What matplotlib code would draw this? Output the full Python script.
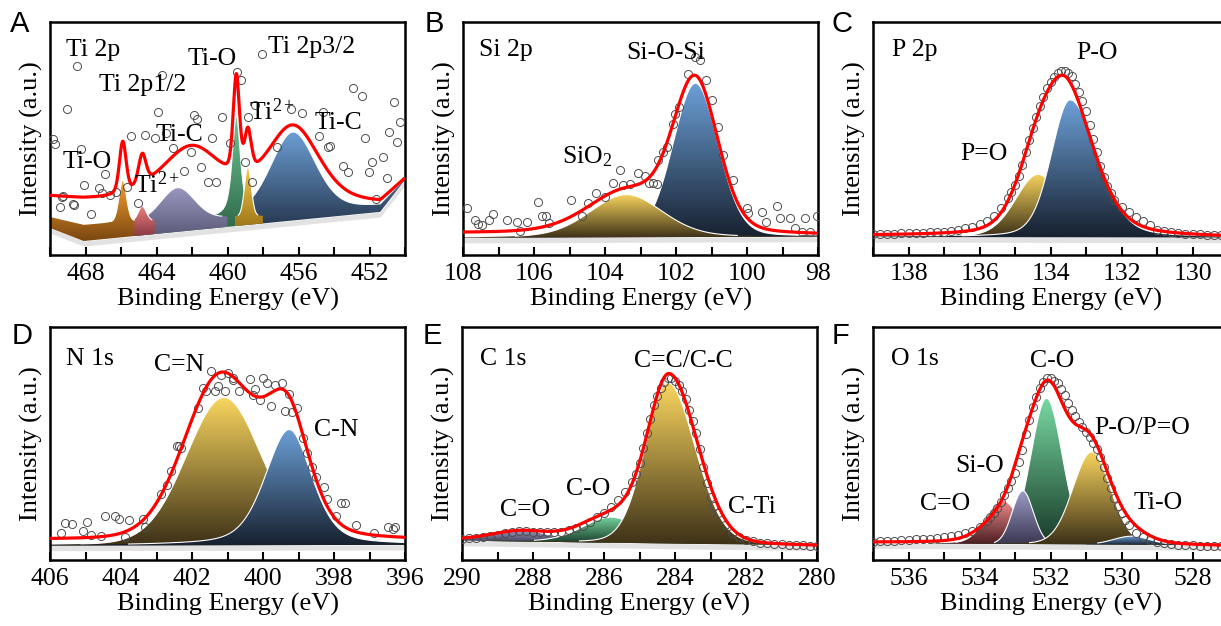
import numpy as np
import matplotlib.pyplot as plt
from matplotlib.colors import LinearSegmentedColormap
from matplotlib.patches import Polygon
from matplotlib.ticker import MultipleLocator

plt.rcParams['font.family'] = ['Liberation Serif', 'DejaVu Serif']
plt.rcParams['mathtext.fontset'] = 'custom'
plt.rcParams['mathtext.rm'] = 'Liberation Serif'
plt.rcParams['mathtext.it'] = 'Liberation Serif:italic'
plt.rcParams['mathtext.bf'] = 'Liberation Serif:bold'

# intensities are given in % of the axis height

# ---- A: Ti 2p ----
a_base_be = [470, 468.1, 451.4, 450]
a_base_y = [11.6, 6.0, 18.5, 32.2]
a_ped_be = [470, 468.1, 466, 463, 459.5, 456, 451.4, 450]
a_ped_y = [4.7, 6.9, 6.5, 5.0, 4.0, 2.0, 2.5, 0.0]
a_peak_be = [459.5, 462.8, 464.8, 465.9, 456.3, 458.85]
a_peak_h = [43.6, 14.0, 6.5, 18.0, 35.8, 21.3]
a_peak_whi = [0.55, 2.2, 0.55, 0.5, 3.0, 0.45]
a_peak_wlo = [0.55, 2.2, 0.55, 0.5, 3.0, 0.45]
a_peak_eta = [0.7, 0.1, 0.2, 0.2, 0.3, 0.1]
a_fit_base_y = [24.9, 23.6, 22.3, 32.2]
a_fit_be = [465.9, 464.8, 462.0, 459.5, 458.85, 456.3]
a_fit_h = [22, 13, 23, 42, 18, 32]
a_fit_whi = [0.45, 0.5, 4.0, 0.42, 0.45, 3.4]
a_fit_wlo = [0.45, 0.5, 4.0, 0.42, 0.45, 3.4]
a_fit_eta = [0.3, 0.3, 0.4, 0.3, 0.3, 0.3]
a_pts_be = [468.46, 469.04, 469.83, 469.70, 468.27, 466.88, 468.08, 469.27, 469.45, 468.65,
            467.67, 467.24, 467.05, 466.64, 466.26, 465.65, 465.45, 464.67, 464.07, 463.67,
            463.92, 463.45, 463.07, 462.45, 462.04, 461.89, 461.70, 461.48, 461.10, 460.87,
            460.66, 460.29, 465.04, 459.86, 459.45, 459.24, 459.01, 458.86, 458.45, 458.07,
            458.60, 457.23, 456.44, 455.82, 454.60, 454.83, 454.35, 454.23, 453.48, 453.23,
            452.91, 452.44, 452.25, 452.03, 451.84, 451.63, 451.26, 451.03, 450.62, 450.28,
            450.88, 450.43, 469.34, 468.69]
a_pts_y = [81.2, 62.7, 49.8, 47.6, 45.5, 34.6, 30.0, 25.3, 20.7, 21.5,
           17.6, 28.6, 26.5, 25.8, 27.2, 29.3, 51.1, 51.5, 50.1, 77.3,
           61.2, 52.5, 45.8, 36.2, 44.3, 60.1, 58.4, 37.9, 31.2, 50.1,
           31.2, 59.4, 22.2, 47.9, 78.4, 75.1, 40.0, 59.1, 64.4, 86.1,
           31.2, 46.5, 62.5, 60.8, 61.5, 51.2, 46.5, 46.9, 38.3, 35.8,
           71.8, 68.2, 50.1, 35.8, 39.8, 24.0, 42.2, 33.2, 65.8, 57.2,
           52.7, 48.4, 25.0, 21.8]

# ---- B: Si 2p ----
b_base_be = [108, 98]
b_base_y = [7.4, 7.9]
b_peak_be = [101.45, 103.4]
b_peak_h = [66.0, 18.3]
b_peak_whi = [1.5, 2.4]
b_peak_wlo = [1.5, 2.4]
b_peak_eta = [0.15, 0.2]
b_fit_base_y = [9.3, 8.5]
b_fit_be = [103.4, 101.45]
b_fit_h = [18, 64]
b_fit_whi = [2.6, 1.5]
b_fit_wlo = [2.6, 1.5]
b_fit_eta = [0.3, 0.2]
b_pts_be = [107.88, 107.66, 107.57, 107.47, 107.26, 107.16, 106.77, 106.47, 106.19, 105.88,
            105.78, 105.66, 105.57, 104.97, 104.66, 104.47, 104.26, 104.0, 103.77, 103.58,
            103.48, 103.06, 102.87, 102.77, 102.64, 102.54, 102.50, 102.36, 102.26, 102.08,
            102.03, 101.91, 101.65, 101.46, 101.32, 101.15, 100.99, 100.81, 100.67, 100.39,
            99.99, 99.96, 99.59, 99.46, 99.16, 99.07, 98.79, 98.65, 98.46, 98.37,
            98.23, 98.04, 103.30, 106.39]
b_pts_y = [20.0, 15.0, 13.3, 12.9, 15.0, 17.6, 15.0, 14.3, 14.0, 22.6,
           16.7, 16.7, 13.9, 23.6, 16.9, 22.2, 26.7, 25.0, 30.8, 36.5,
           30.0, 35.1, 33.9, 30.8, 30.8, 30.6, 40.8, 44.3, 46.5, 56.2,
           60.4, 63.4, 77.7, 85.1, 83.7, 75.1, 66.5, 55.1, 42.9, 32.2,
           20.0, 17.9, 18.6, 14.3, 21.0, 15.7, 15.7, 11.4, 10.0, 15.7,
           9.7, 16.7, 30.5, 10.3]

# ---- C: P 2p ----
c_base_be = [139, 129]
c_base_y = [7.7, 7.5]
c_peak_be = [134.35, 133.45]
c_peak_h = [27.0, 59.0]
c_peak_whi = [1.5, 1.25]
c_peak_wlo = [1.5, 1.8]
c_peak_eta = [0.2, 0.25]
c_fit_base_y = [8.2, 7.4]
c_fit_be = [134.35, 133.5]
c_fit_h = [26, 58]
c_fit_whi = [1.4, 1.6]
c_fit_wlo = [1.4, 1.8]
c_fit_eta = [0.2, 0.4]
c_pts_be = [139.0, 138.8, 138.6, 138.4, 138.2, 138.0, 137.8, 137.6, 137.4, 137.2,
            137.0, 136.8, 136.6, 136.4, 136.2, 136.0, 135.8, 135.6, 135.4, 135.2,
            135.1, 135.0, 134.9, 134.8, 134.7, 134.6, 134.5, 134.4, 134.3, 134.2,
            134.1, 134.0, 133.9, 133.8, 133.7, 133.6, 133.5, 133.4, 133.3, 133.2,
            133.1, 133.0, 132.9, 132.8, 132.7, 132.6, 132.5, 132.4, 132.3, 132.2,
            132.0, 131.8, 131.6, 131.4, 131.2, 131.0, 130.8, 130.6, 130.4, 130.2,
            130.0, 129.8, 129.6, 129.4, 129.2]
c_pts_y = [8.9, 9.0, 9.1, 9.2, 9.3, 9.3, 9.4, 9.5, 9.7, 9.8,
           10.0, 10.3, 10.7, 11.4, 12.2, 13.3, 14.7, 16.7, 20.0, 24.3,
           27.0, 30.0, 34.0, 38.6, 44.0, 49.4, 54.5, 59.4, 64.0, 68.0,
           71.5, 74.4, 76.5, 78.3, 79.0, 79.1, 78.2, 76.8, 73.5, 70.0,
           66.0, 62.0, 56.0, 50.0, 44.0, 38.0, 33.5, 29.5, 26.5, 23.5,
           20.5, 18.3, 16.5, 14.8, 12.8, 10.8, 10.3, 9.8, 9.5, 9.2,
           9.0, 8.8, 8.7, 8.6, 8.6]

# ---- D: N 1s ----
d_base_be = [406, 396]
d_base_y = [6.2, 6.5]
d_peak_be = [401.1, 399.26]
d_peak_h = [63.4, 49.6]
d_peak_whi = [2.5, 1.6]
d_peak_wlo = [2.5, 1.5]
d_peak_eta = [0.1, 0.4]
d_fit_base_y = [8.6, 8.4]
d_fit_be = [401.2, 399.3]
d_fit_h = [69, 50]
d_fit_whi = [2.4, 1.5]
d_fit_wlo = [2.4, 1.5]
d_fit_eta = [0.1, 0.4]
d_pts_be = [405.68, 405.57, 405.38, 405.07, 404.97, 404.85, 404.57, 404.46, 404.18, 404.06,
            403.78, 403.88, 403.38, 403.33, 402.86, 402.70, 402.58, 402.43, 402.37, 402.30,
            401.83, 401.69, 401.60, 401.36, 401.27, 401.08, 401.47, 401.17, 400.99, 400.85,
            400.84, 400.67, 400.37, 400.23, 400.27, 400.08, 399.99, 399.90, 399.66, 399.47,
            399.78, 399.38, 399.19, 399.26, 399.05, 398.86, 398.77, 398.63, 398.51, 398.27,
            398.19, 397.80, 397.69, 397.94, 397.38, 396.87, 396.49, 396.33, 396.28]
d_pts_y = [11.7, 16.0, 15.5, 12.6, 16.4, 10.7, 10.3, 18.9, 18.9, 17.5,
           17.2, 10.0, 17.5, 14.3, 28.3, 32.2, 38.2, 49.1, 48.9, 47.9,
           65.1, 73.7, 72.7, 72.7, 74.7, 72.7, 81.1, 79.4, 80.1, 77.3,
           78.0, 72.5, 77.6, 73.3, 70.8, 68.7, 78.0, 75.8, 75.1, 76.1,
           66.2, 64.1, 63.6, 71.1, 65.4, 52.2, 45.8, 40.0, 35.5, 31.2,
           26.1, 24.6, 24.6, 18.9, 15.0, 11.7, 14.3, 13.2, 14.3]

# ---- E: C 1s ----
e_base_be = [290, 280]
e_base_y = [8.3, 6.2]
e_peak_be = [288.35, 285.8, 284.2]
e_peak_h = [5.0, 11.0, 69.0]
e_peak_whi = [1.9, 1.9, 1.5]
e_peak_wlo = [1.9, 1.9, 1.8]
e_peak_eta = [0.2, 0.2, 0.1]
e_fit_base_y = [8.6, 6.0]
e_fit_be = [288.35, 285.8, 284.15]
e_fit_h = [4, 11, 71]
e_fit_whi = [1.9, 2.0, 1.45]
e_fit_wlo = [1.9, 2.0, 1.85]
e_fit_eta = [0.2, 0.2, 0.1]
e_pts_be = [290.0, 289.8, 289.6, 289.4, 289.2, 289.0, 288.8, 288.6, 288.4, 288.2,
            288.0, 287.8, 287.6, 287.4, 287.2, 287.0, 286.8, 286.6, 286.4, 286.2,
            286.0, 285.8, 285.6, 285.4, 285.2, 285.1, 285.0, 284.9, 284.8, 284.7,
            284.6, 284.5, 284.4, 284.3, 284.2, 284.1, 284.0, 283.9, 283.8, 283.7,
            283.6, 283.5, 283.4, 283.3, 283.2, 283.1, 283.0, 282.9, 282.8, 282.6,
            282.4, 282.2, 282.0, 281.8, 281.6, 281.4, 281.2, 281.0, 280.8, 280.6,
            280.4, 280.2, 280.0]
e_pts_y = [9.2, 9.4, 9.6, 10.0, 10.3, 10.9, 11.4, 12.0, 12.4, 12.4,
           12.2, 12.0, 11.9, 12.0, 12.2, 12.8, 13.6, 14.6, 16.5, 18.3,
           20.0, 22.6, 25.8, 29.3, 33.6, 37.0, 41.5, 48.0, 54.4, 60.5,
           66.4, 70.5, 74.0, 76.5, 78.0, 78.3, 77.0, 75.0, 72.5, 69.0,
           64.4, 59.5, 54.4, 47.5, 40.0, 33.0, 27.0, 23.0, 20.0, 15.0,
           11.7, 9.7, 8.6, 8.0, 7.4, 7.1, 6.9, 6.7, 6.5, 6.4,
           6.3, 6.2, 6.1]

# ---- F: O 1s ----  (fill order: C-O, C=O, Si-O, P-O/P=O, Ti-O)
f_base_be = [537, 527]
f_base_y = [7.2, 6.4]
f_peak_be = [532.11, 533.35, 532.78, 530.84, 529.71]
f_peak_h = [62.6, 18.6, 22.8, 39.7, 3.6]
f_peak_whi = [1.05, 1.1, 0.7, 1.25, 1.2]
f_peak_wlo = [1.05, 1.1, 0.7, 1.25, 1.2]
f_peak_eta = [0.1, 0.1, 0.0, 0.1, 0.0]
f_fit_base_y = [7.4, 5.9]
f_fit_be = [533.35, 532.8, 532.1, 530.9, 529.7]
f_fit_h = [11, 12, 62, 42, 3.5]
f_fit_whi = [1.3, 0.8, 1.2, 1.35, 1.2]
f_fit_wlo = [1.3, 0.8, 1.2, 1.35, 1.2]
f_fit_eta = [0.3, 0.0, 0.2, 0.2, 0.0]
f_pts_be = [537.0, 536.8, 536.6, 536.4, 536.2, 536.0, 535.8, 535.6, 535.4, 535.2,
            535.0, 534.8, 534.6, 534.4, 534.2, 534.0, 533.8, 533.7, 533.6, 533.5,
            533.4, 533.3, 533.2, 533.1, 533.0, 532.9, 532.8, 532.7, 532.6, 532.5,
            532.4, 532.3, 532.2, 532.1, 532.0, 531.9, 531.8, 531.7, 531.6, 531.5,
            531.4, 531.3, 531.2, 531.1, 531.0, 530.9, 530.8, 530.7, 530.6, 530.5,
            530.4, 530.3, 530.2, 530.1, 530.0, 529.9, 529.8, 529.6, 529.4, 529.2,
            529.0, 528.8, 528.6, 528.4, 528.2, 528.0, 527.8, 527.6, 527.4, 527.2]
f_pts_y = [7.9, 8.0, 8.1, 8.3, 8.4, 8.6, 8.8, 8.9, 9.1, 9.4,
           9.7, 10.2, 10.7, 11.4, 12.4, 14.3, 16.9, 18.4, 20.0, 22.5,
           25.0, 27.8, 30.8, 34.0, 37.2, 42.0, 47.2, 54.0, 60.1, 65.5,
           70.1, 74.0, 76.5, 78.0, 78.0, 77.0, 75.8, 73.5, 70.8, 67.5,
           64.4, 61.8, 59.4, 57.2, 55.1, 52.7, 50.1, 47.5, 44.3, 40.0,
           35.1, 30.8, 26.5, 23.0, 20.0, 17.3, 15.0, 11.7, 9.7, 8.6,
           7.7, 7.3, 6.9, 6.6, 6.4, 6.3, 6.2, 6.1, 6.0, 6.0]

# gradient colours (top, bottom)
BLUE = ('#6ca0d8', '#17202e')
YELLOW = ('#f9d55e', '#3c3017')
GREEN = ('#78d9a2', '#173826')
PURPLE = ('#9e9cc8', '#393750')
RED = ('#f48c8c', '#4a1d22')
A_COLS = [('#6fc898', '#2c6444'), ('#9a98c0', '#5c5a78'), ('#ee8080', '#8a3a44'),
          ('#f6a232', '#7a4610'), ('#6c9fd6', '#283a52'), ('#f4cc4c', '#a07818')]
A_SPANS = [(465.3, 458.85), (465.3, 460.0), (465.5, 464.1), (470, 465.25), (459.2, 450), (459.6, 458.0)]

FS_TICK = 18.5
FS_LABEL = 19
FS_NOTE = 18.5


def pv(x, c, h, whi, wlo, eta):
    w = np.where(x > c, whi, wlo)
    d = (x - c) / (w / 2.0)
    return h * (eta / (1 + d ** 2) + (1 - eta) * np.exp(-np.log(2) * d ** 2))


def grad_fill(ax, x, y0, y1, cols, z):
    verts = np.column_stack([np.r_[x, x[::-1]], np.r_[y1, y0[::-1]]])
    poly = Polygon(verts, closed=True, fc='none', ec='none')
    ax.add_patch(poly)
    cmap = LinearSegmentedColormap.from_list('g', [cols[1], cols[0]])
    im = ax.imshow(np.linspace(1, 0, 256)[:, None], cmap=cmap, aspect='auto',
                   extent=(x.min(), x.max(), y0.min(), y1.max()), origin='upper',
                   zorder=z, interpolation='bilinear')
    im.set_clip_path(poly)


def panel(ax, xlim, base_be, base_y, peaks, cols, fit_base_y, fit, pts, labels,
          major=2, ped=None, spans=None):
    x = np.linspace(min(xlim), max(xlim), 1500)
    b = np.interp(x, base_be[::-1], base_y[::-1])
    fb = np.interp(x, base_be[::-1], fit_base_y[::-1])
    pd_ = np.zeros_like(x) if ped is None else np.interp(x, ped[0][::-1], ped[1][::-1])

    # light shadow under the baseline
    ax.fill_between(x, b - 2.2, b, color='#e2e2e2', lw=0, zorder=1)

    for i, (c, h, whi, wlo, eta) in enumerate(zip(*peaks)):
        p = pv(x, c, h, whi, wlo, eta)
        if spans is not None:
            lo, hi = sorted(spans[i])
            m = (x >= lo) & (x <= hi)
        else:
            m = p > 0.15
            m = (x >= x[m].min()) & (x <= x[m].max())
        xs, y0, y1 = x[m], b[m], (b + pd_ + p)[m]
        grad_fill(ax, xs, y0, y1, cols[i], 2 + i * 0.1)
        edge = np.where(p[m] > 0.6, y1, np.nan)
        ax.plot(xs, edge, color='white', lw=0.8, zorder=2.05 + i * 0.1)

    env = fb.copy()
    for c, h, whi, wlo, eta in zip(*fit):
        env += pv(x, c, h, whi, wlo, eta)

    ax.plot(pts[0], pts[1], 'o', ms=5.8, mfc='none', mec='#4d4d4d', mew=0.7, zorder=8)
    ax.plot(x, env, color='#ff0000', lw=2.3, zorder=10, solid_capstyle='butt')

    for txt, tx, ty in labels:
        ax.text(tx, ty, txt, fontsize=FS_NOTE, ha='center', va='center', zorder=12)

    ax.set_xlim(*xlim)
    ax.set_ylim(0, 100)
    ax.set_yticks([])
    ax.xaxis.set_major_locator(MultipleLocator(major))
    ax.xaxis.set_minor_locator(MultipleLocator(major / 2))
    ax.tick_params(axis='x', which='both', direction='in', length=5.5, width=1.5,
                   top=False, labelsize=FS_TICK, pad=6)
    for s in ax.spines.values():
        s.set_linewidth(1.8)
    ax.set_xlabel('Binding Energy (eV)', fontsize=FS_LABEL, labelpad=2)
    ax.set_ylabel('Intensity (a.u.)', fontsize=FS_LABEL, labelpad=5)


W, H = 1221, 626
fig = plt.figure(figsize=(W / 100, H / 100), dpi=100)


def axes_at(x0, y0, x1, y1):
    return fig.add_axes([x0 / W, 1 - y1 / H, (x1 - x0) / W, (y1 - y0) / H])


axA = axes_at(50, 22, 405, 255)
axB = axes_at(463, 22, 818, 255)
axC = axes_at(873, 22, 1228, 255)
axD = axes_at(50, 327, 405, 560)
axE = axes_at(462, 327, 817, 560)
axF = axes_at(873, 327, 1228, 560)

panel(axA, (470, 450), a_base_be, a_base_y,
      (a_peak_be, a_peak_h, a_peak_whi, a_peak_wlo, a_peak_eta), A_COLS, a_fit_base_y,
      (a_fit_be, a_fit_h, a_fit_whi, a_fit_wlo, a_fit_eta), (a_pts_be, a_pts_y),
      [('Ti 2p', 467.58, 88.0), ('Ti 2p1/2', 464.76, 73.0), ('Ti-O', 460.87, 84.1),
       ('Ti 2p3/2', 455.24, 89.3), ('Ti-O', 467.92, 39.9), ('Ti$^{2+}$', 464.0, 30.0),
       ('Ti-C', 462.68, 51.5), ('Ti$^{2+}$', 457.5, 61.4), ('Ti-C', 453.77, 56.7)],
      major=4, ped=(a_ped_be, a_ped_y), spans=A_SPANS)

panel(axB, (108, 98), b_base_be, b_base_y,
      (b_peak_be, b_peak_h, b_peak_whi, b_peak_wlo, b_peak_eta), [BLUE, YELLOW], b_fit_base_y,
      (b_fit_be, b_fit_h, b_fit_whi, b_fit_wlo, b_fit_eta), (b_pts_be, b_pts_y),
      [('Si 2p', 106.79, 88.0), ('Si-O-Si', 102.28, 86.7), ('SiO$_2$', 104.5, 42.0)])

panel(axC, (139, 129), c_base_be, c_base_y,
      (c_peak_be, c_peak_h, c_peak_whi, c_peak_wlo, c_peak_eta), [YELLOW, BLUE], c_fit_base_y,
      (c_fit_be, c_fit_h, c_fit_whi, c_fit_wlo, c_fit_eta), (c_pts_be, c_pts_y),
      [('P 2p', 137.82, 88.0), ('P-O', 132.69, 86.7), ('P=O', 135.87, 43.3)])

panel(axD, (406, 396), d_base_be, d_base_y,
      (d_peak_be, d_peak_h, d_peak_whi, d_peak_wlo, d_peak_eta), [YELLOW, BLUE], d_fit_base_y,
      (d_fit_be, d_fit_h, d_fit_whi, d_fit_wlo, d_fit_eta), (d_pts_be, d_pts_y),
      [('N 1s', 404.87, 86.3), ('C=N', 402.37, 83.7), ('C-N', 397.94, 55.8)])

panel(axE, (290, 280), e_base_be, e_base_y,
      (e_peak_be, e_peak_h, e_peak_whi, e_peak_wlo, e_peak_eta), [PURPLE, GREEN, YELLOW],
      e_fit_base_y, (e_fit_be, e_fit_h, e_fit_whi, e_fit_wlo, e_fit_eta), (e_pts_be, e_pts_y),
      [('C 1s', 288.85, 86.3), ('C=C/C-C', 283.77, 85.4), ('C-O', 286.45, 30.5),
       ('C=O', 288.23, 21.5), ('C-Ti', 281.83, 22.7)])

panel(axF, (537, 527), f_base_be, f_base_y,
      (f_peak_be, f_peak_h, f_peak_whi, f_peak_wlo, f_peak_eta),
      [GREEN, RED, PURPLE, YELLOW, BLUE], f_fit_base_y,
      (f_fit_be, f_fit_h, f_fit_whi, f_fit_wlo, f_fit_eta), (f_pts_be, f_pts_y),
      [('O 1s', 535.82, 86.3), ('C-O', 531.96, 85.4), ('P-O/P=O', 529.42, 56.7),
       ('Si-O', 534.01, 40.3), ('C=O', 534.97, 24.0), ('Ti-O', 528.97, 24.5)])

for letter, px, py in [('A', 20, 24), ('B', 434, 24), ('C', 842, 24),
                       ('D', 22, 336), ('E', 432, 336), ('F', 841, 336)]:
    fig.text(px / W, 1 - py / H, letter, fontsize=21, family='Liberation Sans',
             ha='center', va='center')

fig.savefig('out.png', dpi=100)
